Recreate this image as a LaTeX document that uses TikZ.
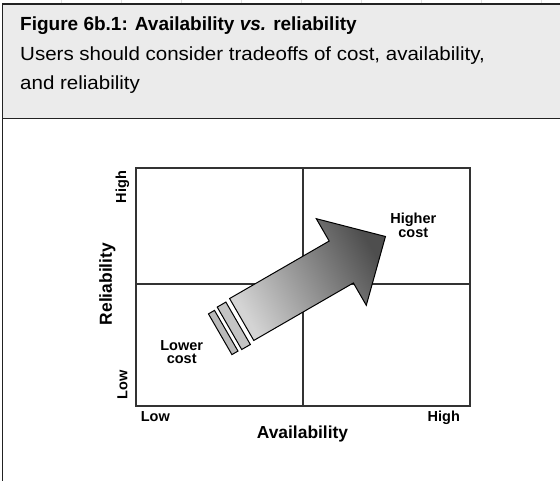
\documentclass[tikz,border=0pt]{standalone}
\usepackage{fontspec}
\setmainfont{Liberation Sans}
\newfontfamily\titlefont[FakeStretch=1.0]{Liberation Sans}
\newfontfamily\subfont[FakeStretch=1.08]{Liberation Sans}
\definecolor{hdrfill}{RGB}{235,235,235}
\definecolor{frame}{RGB}{34,34,34}
\definecolor{plotline}{RGB}{51,51,51}
\definecolor{arrlight}{RGB}{212,212,212}
\definecolor{arrdark}{RGB}{78,78,78}
\definecolor{segfill}{RGB}{196,196,196}
\definecolor{gridfaint}{RGB}{225,225,225}
\tikzset{
  framestyle/.style={draw=frame, line width=1.3pt},
  plotstyle/.style={draw=plotline, line width=1.3pt},
  axislbl/.style={font=\bfseries\fontsize{17.4}{18}\selectfont, inner sep=0pt},
  smalllbl/.style={font=\bfseries\fontsize{14.5}{15}\selectfont, inner sep=0pt},
  titlelbl/.style={font=\titlefont\bfseries\fontsize{19}{22}\selectfont, inner sep=0pt, anchor=base west},
  sublbl/.style={font=\subfont\fontsize{19}{22}\selectfont, inner sep=0pt, anchor=base west},
  arrowpiece/.style={draw=black, line width=1pt, line join=miter},
}
\begin{document}
\begin{tikzpicture}[x=1pt, y=-1pt]
\useasboundingbox (0,0) rectangle (560,481);
\fill[white] (0,0) rectangle (560,481);
% faint background grid at top
\foreach \gx in {1,...,9} {\draw[gridfaint, line width=0.8pt] ({60*\gx+1},0) -- ({60*\gx+1},4);}
% header
\fill[hdrfill] (2.7,4) rectangle (562,118.5);
\draw[framestyle] (562,4) -- (2.7,4) -- (2.7,483);
\draw[framestyle] (2.7,118.5) -- (562,118.5);
\node[titlelbl] (title) at (20,31) {Figure 6b.1: Availability \textit{vs.} reliability};
\node[sublbl] (sub1) at (20,60.7) {Users should consider tradeoffs of cost, availability,};
\node[sublbl] (sub2) at (20,89.3) {and reliability};
% plot frame
\draw[plotstyle] (136,168) rectangle (470,406);
\draw[plotstyle] (303,168) -- (303,406);
\draw[plotstyle] (136,284) -- (470,284);
% arrow
\begin{scope}[shift={(241.7,319.5)}, x={(0.866pt,0.5pt)}, y={(0.5pt,-0.866pt)}]
  \shade[arrowpiece, left color=arrlight, right color=arrdark, shading angle=120]
    (0,-24.2) -- (115,-24.2) -- (115,-50) -- (166,0) -- (115,50) -- (115,24.2) -- (0,24.2) -- cycle;
  \filldraw[arrowpiece, fill=segfill] (-15,-23) -- (-5,-23) -- (-5,26) -- (-15,26) -- cycle;
  \filldraw[arrowpiece, fill=segfill!95!black] (-26,-21.5) -- (-19,-21.5) -- (-19,25.5) -- (-26,25.5) -- cycle;
\end{scope}
% labels
\node[smalllbl, anchor=base] (hi1) at (413.3,224) {Higher};
\node[smalllbl, anchor=base] (hi2) at (413.3,237.3) {cost};
\node[smalllbl, anchor=base] (lo1) at (181.7,350) {Lower};
\node[smalllbl, anchor=base] (lo2) at (181.7,363.3) {cost};
\node[smalllbl, anchor=base] (xlow) at (155.3,421.7) {Low};
\node[smalllbl, anchor=base] (xhigh) at (443.8,421.7) {High};
\node[axislbl, anchor=base] (xlab) at (302.5,438.3) {Availability};
\node[axislbl, rotate=90] (ylab) at (107.5,284) {Reliability};
\node[smalllbl, rotate=90] (yhigh) at (122.5,187) {High};
\node[smalllbl, rotate=90] (ylow) at (122.5,384.7) {Low};
\end{tikzpicture}
\end{document}
